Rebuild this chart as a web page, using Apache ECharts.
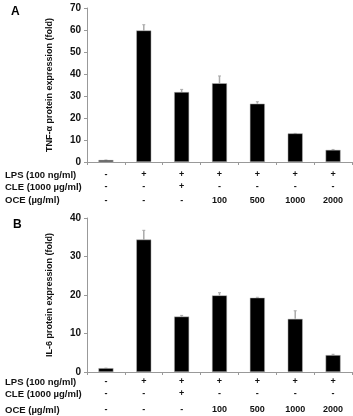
<!DOCTYPE html>
<html>
<head>
<meta charset="utf-8">
<script src="https://cdn.jsdelivr.net/npm/echarts@6/dist/echarts.min.js"></script>
<style>
  html, body { margin: 0; padding: 0; background: #fff; }
  #chart { width: 353px; height: 416px; }
</style>
</head>
<body>
<div id="chart"></div>
<script>
var groups = ["g1", "g2", "g3", "g4", "g5", "g6", "g7"];
var lps = ["-", "+", "+", "+", "+", "+", "+"];
var cle = ["-", "-", "+", "-", "-", "-", "-"];
var oce = ["-", "-", "-", "100", "500", "1000", "2000"];

var tnfMean = [0.9, 59.8, 31.8, 35.8, 26.5, 13.0, 5.5];
var tnfErr = [0.9, 62.4, 33.0, 39.1, 27.4, 13.0, 5.7];
var il6Mean = [1.0, 34.4, 14.4, 19.9, 19.3, 13.8, 4.4];
var il6Err = [1.0, 36.8, 14.7, 20.6, 19.4, 15.9, 4.6];

var font = "Liberation Sans, Arial, sans-serif";

function errBars(xi, yi, means, tops) {
  return {
    type: "custom",
    xAxisIndex: xi,
    yAxisIndex: yi,
    z: 1,
    data: tops.map(function (v, i) { return [i, means[i], v]; }),
    renderItem: function (params, api) {
      var base = api.coord([api.value(0), api.value(1)]);
      var top = api.coord([api.value(0), api.value(2)]);
      return {
        type: "group",
        children: [
          { type: "line", shape: { x1: top[0], y1: top[1], x2: top[0], y2: base[1] },
            style: { stroke: "#aaa", lineWidth: 1.5 } },
          { type: "line", shape: { x1: top[0] - 1.5, y1: top[1], x2: top[0] + 1.5, y2: top[1] },
            style: { stroke: "#aaa", lineWidth: 1 } }
        ]
      };
    }
  };
}

function catAxis(gi, margin, h3) {
  return {
    type: "category",
    gridIndex: gi,
    data: groups,
    axisLine: { lineStyle: { color: "#999", width: 1 } },
    axisTick: { show: true, length: 3, lineStyle: { color: "#999" } },
    axisLabel: {
      interval: 0,
      hideOverlap: false,
      margin: margin,
      color: "#111",
      fontFamily: font,
      fontWeight: "bold",
      fontSize: 9,
      formatter: function (v, i) {
        return "{a|" + lps[i] + "}\n{a|" + cle[i] + "}\n{c|" + oce[i] + "}";
      },
      rich: {
        a: { fontFamily: font, fontWeight: "bold", fontSize: 9, color: "#111", lineHeight: 12 },
        c: { fontFamily: font, fontWeight: "bold", fontSize: 9, color: "#111", lineHeight: h3 }
      }
    }
  };
}

function valAxis(gi, max, name) {
  return {
    type: "value",
    gridIndex: gi,
    min: 0,
    max: max,
    interval: 10,
    name: name,
    nameLocation: "middle",
    nameGap: 33,
    nameTextStyle: { color: "#111", fontFamily: font, fontWeight: "bold", fontSize: 9 },
    splitLine: { show: false },
    axisLine: { show: true, lineStyle: { color: "#999", width: 1 } },
    axisTick: { show: true, length: 3, inside: false, lineStyle: { color: "#999" } },
    axisLabel: { color: "#111", fontFamily: font, fontWeight: "bold", fontSize: 10, margin: 6 }
  };
}

function rowLabels(ys) {
  var names = ["LPS (100 ng/ml)", "CLE (1000 \u00b5g/ml)", "OCE (\u00b5g/ml)"];
  return names.map(function (t, i) {
    return {
      type: "text", x: 5, y: ys[i],
      style: { text: t, fill: "#111", font: "bold 9.5px " + font, verticalAlign: "middle" }
    };
  });
}

var chart = echarts.init(document.getElementById("chart"));
chart.setOption({
  animation: false,
  grid: [
    { left: 87, top: 8, width: 265, height: 154 },
    { left: 87, top: 218, width: 265, height: 154 }
  ],
  xAxis: [catAxis(0, 7, 15), catAxis(1, 4, 20)],
  yAxis: [
    valAxis(0, 70, "TNF-\u03b1 protein expression (fold)"),
    valAxis(1, 40, "IL-6 protein expression (fold)")
  ],
  graphic: [
    { type: "text", left: 11, top: 6, style: { text: "A", fill: "#000", font: "bold 12px " + font } },
    { type: "text", left: 13, top: 219, style: { text: "B", fill: "#000", font: "bold 12px " + font } }
  ].concat(rowLabels([175, 187, 200])).concat(rowLabels([382, 394, 410])),
  series: [
    errBars(0, 0, tnfMean, tnfErr),
    { type: "bar", xAxisIndex: 0, yAxisIndex: 0, data: tnfMean, barWidth: 15, z: 2,
      itemStyle: { color: "#000", borderColor: "#bbb", borderWidth: 0.5 } },
    errBars(1, 1, il6Mean, il6Err),
    { type: "bar", xAxisIndex: 1, yAxisIndex: 1, data: il6Mean, barWidth: 15, z: 2,
      itemStyle: { color: "#000", borderColor: "#bbb", borderWidth: 0.5 } }
  ]
});
</script>
</body>
</html>
